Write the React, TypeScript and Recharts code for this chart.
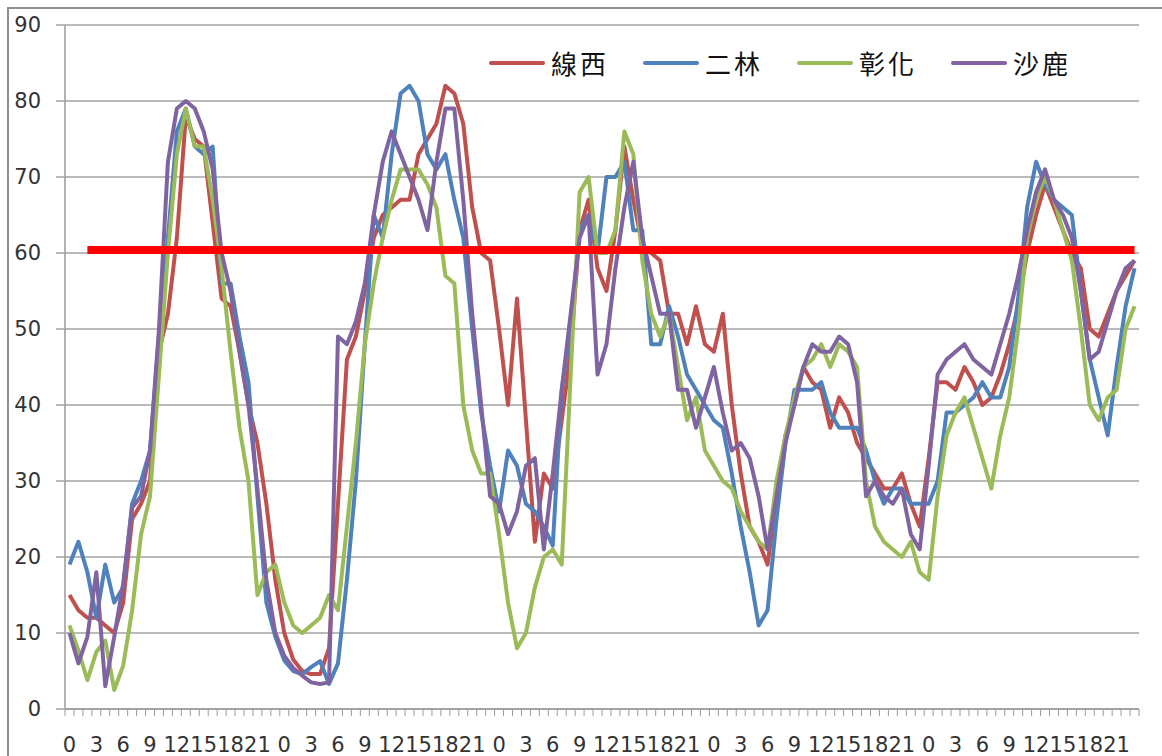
import React from 'react';
import { LineChart, Line, XAxis, YAxis, CartesianGrid, ReferenceLine } from 'recharts';

// hourly readings, 5 days x 24 hours
const xianxi = [
  15, 13, 12, 12, 11, 10, 14, 25, 27, 30, 47, 52, 62, 78, 75, 74, 64, 54, 53, 47, 40, 35, 27, 17,
  10, 6.5, 5, 4.6, 4.6, 8, 27, 46, 49, 55, 62, 65, 66, 67, 67, 73, 75, 77, 82, 81, 77, 66, 60, 59,
  50, 40, 54, 38, 22, 31, 29, 38, 47, 63, 67, 58, 55, 63, 74, 67, 61, 60, 59, 52, 52, 48, 53, 48,
  47, 52, 40, 31, 24, 22, 19, 28, 36, 40, 45, 43, 42, 37, 41, 39, 35, 33, 31, 29, 29, 31, 27, 24,
  33, 43, 43, 42, 45, 43, 40, 41, 44, 48, 53, 60, 65, 69, 66, 63, 60, 58, 50, 49, 52, 55, 57, 59,
];
const erlin = [
  19, 22, 18, 12, 19, 14, 16, 27, 30, 34, 49, 62, 76, 79, 74, 73, 74, 56, 56, 49, 43, 28, 14, 9.5,
  6.4, 5, 4.6, 5.5, 6.3, 3.3, 6, 17, 30, 48, 65, 62, 73, 81, 82, 80, 73, 71, 73, 67, 62, 50, 39, 32,
  26, 34, 32, 27, 26, 24, 21.5, 42, 50, 63, 65, 60, 70, 70, 72, 63, 63, 48, 48, 53, 49, 44, 42, 40,
  38, 37, 31, 24, 18, 11, 13, 25, 35, 42, 42, 42, 43, 39, 37, 37, 37, 34, 30, 27, 29, 29, 27, 27,
  27, 30, 39, 39, 40, 41, 43, 41, 41, 45, 54, 66, 72, 69, 67, 66, 65, 55, 46, 41, 36, 45, 53, 58,
];
const changhua = [
  11, 7.7, 3.8, 7.5, 9, 2.5, 5.7, 13, 23, 28, 44, 60, 73, 79, 74, 74, 67, 58, 47, 37, 30, 15, 18, 19,
  14, 11, 10, 11, 12, 15, 13, 24, 35, 48, 56, 62, 67, 71, 71, 71, 69, 66, 57, 56, 40, 34, 31, 31,
  23, 14, 8, 10, 16, 20, 21, 19, 44, 68, 70, 60, 60, 63, 76, 73, 59, 52, 49, 52, 45, 38, 41, 34,
  32, 30, 29, 26, 24, 22, 21, 30, 36, 41, 45, 46, 48, 45, 48, 47, 45, 30, 24, 22, 21, 20, 22, 18,
  17, 28, 36, 39, 41, 37, 33, 29, 36, 41, 50, 62, 67, 70, 67, 63, 59, 50, 40, 38, 41, 42, 50, 53,
];
const shalu = [
  10, 6, 9.5, 18, 3, 9.5, 16.5, 26.5, 28, 34, 50, 72, 79, 80, 79, 76, 71, 60, 55, 47, 40, 29, 17, 10,
  7, 5.4, 4.4, 3.5, 3.3, 3.5, 49, 48, 51, 56, 65, 72, 76, 73, 70, 67, 63, 72, 79, 79, 67, 52, 40, 28,
  27, 23, 26, 32, 33, 21, 31, 42, 52, 62, 65, 44, 48, 58, 66, 72, 62, 57, 52, 52, 42, 42, 37, 41,
  45, 39, 34, 35, 33, 28, 21, 28, 35, 40, 45, 48, 47, 47, 49, 48, 43, 28, 30, 28, 27, 29, 23, 21,
  32, 44, 46, 47, 48, 46, 45, 44, 48, 52, 57, 63, 68, 71, 67, 65, 62, 55, 46, 47, 51, 55, 58, 59,
];

const hoursPerDay = 24;
const labelEvery = 3;
const yTicks = [0, 10, 20, 30, 40, 50, 60, 70, 80, 90];
const threshold = 60.4;
const thresholdFrom = 2;

const seriesList = [
  { name: '線西', color: '#C0504D', values: xianxi },
  { name: '二林', color: '#4F81BD', values: erlin },
  { name: '彰化', color: '#9BBB59', values: changhua },
  { name: '沙鹿', color: '#8064A2', values: shalu },
];

const rows = xianxi.map((_, i) => {
  const row: Record<string, number> = { idx: i };
  seriesList.forEach((s) => {
    row[s.name] = s.values[i];
  });
  return row;
});

const axisFont = { fill: '#333', fontSize: 21, fontFamily: 'DejaVu Sans' };
const markLen = 7;
const labelGap = 28;

// Excel-style category axis: marks on the hour boundaries, a label every third hour
const HourTick = (props: any) => {
  const { x, y, payload, width, visibleTicksCount } = props;
  const half = payload.offset || width / visibleTicksCount / 2;
  const axisY = y - labelGap;
  const v = Number(payload.value);
  const isLast = v === rows.length - 1;
  return (
    <g>
      <line x1={x - half} x2={x - half} y1={axisY} y2={axisY + markLen} stroke="#9a9a9a" />
      {isLast && <line x1={x + half} x2={x + half} y1={axisY} y2={axisY + markLen} stroke="#9a9a9a" />}
      {v % labelEvery === 0 && (
        <text x={x} y={y} dy="0.71em" textAnchor="middle" {...axisFont}>
          {v % hoursPerDay}
        </text>
      )}
    </g>
  );
};

export default function App() {
  return (
    <div style={{ position: 'absolute', left: 0, top: 0, width: 1162, height: 756, overflow: 'hidden', background: '#fff' }}>
      <div style={{ position: 'absolute', left: 7, top: 7, width: 1300, height: 900, border: '2px solid #8e8e8e' }} />
      <div style={{ position: 'absolute', left: 0, top: 0 }}>
        <LineChart width={1162} height={756} data={rows} margin={{ top: 25, right: 23, bottom: 0, left: 0 }}>
          <CartesianGrid vertical={false} stroke="#a3a3a3" strokeWidth={1.5} />
          <XAxis
            dataKey="idx"
            scale="band"
            interval={0}
            tickLine={false}
            tickSize={0}
            tickMargin={labelGap}
            height={47}
            axisLine={{ stroke: '#9a9a9a', strokeWidth: 1.5 }}
            tick={<HourTick />}
          />
          <YAxis
            domain={[0, 90]}
            ticks={yTicks}
            interval={0}
            width={65}
            tickSize={9}
            tickMargin={15}
            axisLine={{ stroke: '#9a9a9a', strokeWidth: 1.5 }}
            tickLine={{ stroke: '#a3a3a3', strokeWidth: 1.5 }}
            tick={axisFont}
          />
          {seriesList.map((s) => (
            <Line
              key={s.name}
              type="linear"
              dataKey={s.name}
              stroke={s.color}
              strokeWidth={4}
              strokeLinejoin="round"
              dot={false}
              isAnimationActive={false}
            />
          ))}
          <ReferenceLine
            segment={[
              { x: thresholdFrom, y: threshold },
              { x: rows.length - 1, y: threshold },
            ]}
            stroke="#FF0000"
            strokeWidth={8}
          />
        </LineChart>
      </div>
      <div
        style={{
          position: 'absolute',
          left: 489,
          top: 47,
          display: 'flex',
          alignItems: 'center',
          fontFamily: '"Noto Sans CJK TC"',
          fontSize: 26,
          lineHeight: '32px',
          color: '#111',
        }}
      >
        {seriesList.map((s) => (
          <div key={s.name} style={{ display: 'flex', alignItems: 'center', width: 154 }}>
            <span style={{ display: 'inline-block', width: 56, height: 4, background: s.color, borderRadius: 2 }} />
            <span style={{ marginLeft: 6, letterSpacing: 3 }}>{s.name}</span>
          </div>
        ))}
      </div>
    </div>
  );
}
